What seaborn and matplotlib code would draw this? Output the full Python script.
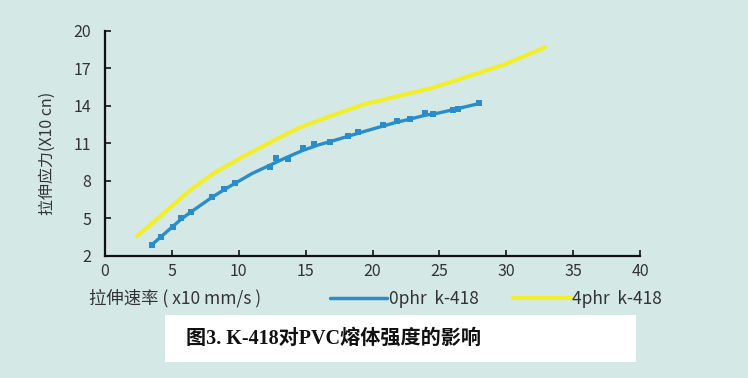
import matplotlib
matplotlib.use("Agg")
import matplotlib.pyplot as plt
import seaborn as sns
import pandas as pd
from matplotlib.patches import Rectangle
from matplotlib.lines import Line2D

sns.set_style("ticks")
plt.rcParams['font.family'] = ['Noto Sans CJK SC', 'DejaVu Sans']

# measured points, 0phr
x_0phr = [3.5, 4.2, 5.1, 5.7, 6.4, 8.0, 8.9, 9.7, 12.3, 12.8, 13.7, 14.8, 15.6, 16.8,
          18.2, 18.9, 20.8, 21.8, 22.8, 23.9, 24.5, 26.0, 26.4, 28.0]
y_0phr = [2.9, 3.55, 4.35, 5.0, 5.55, 6.75, 7.35, 7.8, 9.1, 9.8, 9.75, 10.6, 10.95, 11.1,
          11.6, 11.95, 12.45, 12.8, 12.95, 13.4, 13.35, 13.7, 13.75, 14.25]
# fitted curve, 0phr
xc_0phr = [3.5, 4.2, 5.0, 5.7, 6.4, 7.2, 8.0, 8.9, 9.7, 11.0, 12.3, 13.5, 14.8, 16.0, 17.0,
           18.4, 19.5, 20.8, 21.8, 22.8, 23.9, 25.0, 26.2, 27.2, 28.0]
yc_0phr = [2.9, 3.55, 4.3, 4.95, 5.5, 6.1, 6.7, 7.3, 7.8, 8.6, 9.25, 9.85, 10.45, 10.9, 11.2,
           11.65, 12.0, 12.4, 12.7, 12.95, 13.25, 13.45, 13.75, 14.0, 14.2]
# 4phr curve
x_4phr = [2.4, 4.2, 6.4, 8.1, 10.3, 13.1, 14.6, 16.6, 18.2, 19.4, 20.8, 22.5, 24.3, 25.8,
          27.8, 29.8, 32.9]
y_4phr = [3.6, 5.25, 7.3, 8.6, 9.95, 11.5, 12.3, 13.1, 13.7, 14.15, 14.5, 14.95, 15.4, 15.9,
          16.6, 17.3, 18.7]
series_names = ["0phr  k-418", "4phr  k-418"]
x_ticks = [0, 5, 10, 15, 20, 25, 30, 35, 40]
y_ticks = [2, 5, 8, 11, 14, 17, 20]

df_pts = pd.DataFrame({"x": x_0phr, "y": y_0phr})
df_fit = pd.DataFrame({"x": xc_0phr, "y": yc_0phr})
df_4 = pd.DataFrame({"x": x_4phr, "y": y_4phr})

bg = "#d4e9e6"
blue = "#2a8dcb"
yellow = "#f3ee2c"

fig = plt.figure(figsize=(7.48, 3.78), dpi=100, facecolor=bg)
ax = fig.add_axes([0.1404, 0.3228, 0.7152, 0.5952])
ax.set_facecolor(bg)

sns.lineplot(data=df_4, x="x", y="y", color=yellow, lw=3.0, ax=ax, legend=False)
sns.lineplot(data=df_fit, x="x", y="y", color=blue, lw=2.4, ax=ax, legend=False)
sns.scatterplot(data=df_pts, x="x", y="y", color=blue, marker="s", s=14, linewidth=0,
                ax=ax, legend=False, zorder=3)

ax.set_xlim(0, 40)
ax.set_ylim(2, 20)
ax.set_xticks(x_ticks)
ax.set_yticks(y_ticks)
ax.set_xlabel("")
ax.set_ylabel("")
for s in ["top", "right"]:
    ax.spines[s].set_visible(False)
for s in ["left", "bottom"]:
    ax.spines[s].set_color("#111111")
    ax.spines[s].set_linewidth(1.6)
ax.tick_params(direction="in", length=4, width=1.2, colors="#111111",
               labelcolor="#333333", labelsize=11.5)
ax.tick_params(axis="y", pad=10)
ax.tick_params(axis="x", pad=5)

fig.text(0.063, 0.593, "拉伸应力(X10 cn)", rotation=90, ha="center", va="center",
         fontsize=11.5, color="#333333")
fig.text(0.119, 0.21, "拉伸速率 ( x10 mm/s )", ha="left", va="center",
         fontsize=12.5, color="#333333")

handles = [Line2D([], [], color=blue, lw=2.5), Line2D([], [], color=yellow, lw=3)]
fig.legend(handles, series_names, loc="center left", bbox_to_anchor=(0.441, 0.21),
           ncol=2, frameon=False, fontsize=12.5, handlelength=3.3, handletextpad=0.1,
           columnspacing=2.0, labelcolor="#333333", borderaxespad=0, borderpad=0)

fig.patches.append(Rectangle((0.221, 0.042), 0.629, 0.125, transform=fig.transFigure,
                             facecolor="white", edgecolor="none", zorder=0))
fig.text(0.249, 0.105, "图3. K-418对PVC熔体强度的影响", ha="left", va="center",
         fontsize=14.5, fontweight="bold", color="#111111",
         family=["Liberation Serif", "Noto Sans CJK SC"])

fig.savefig("out.png", dpi=100, facecolor=bg)
